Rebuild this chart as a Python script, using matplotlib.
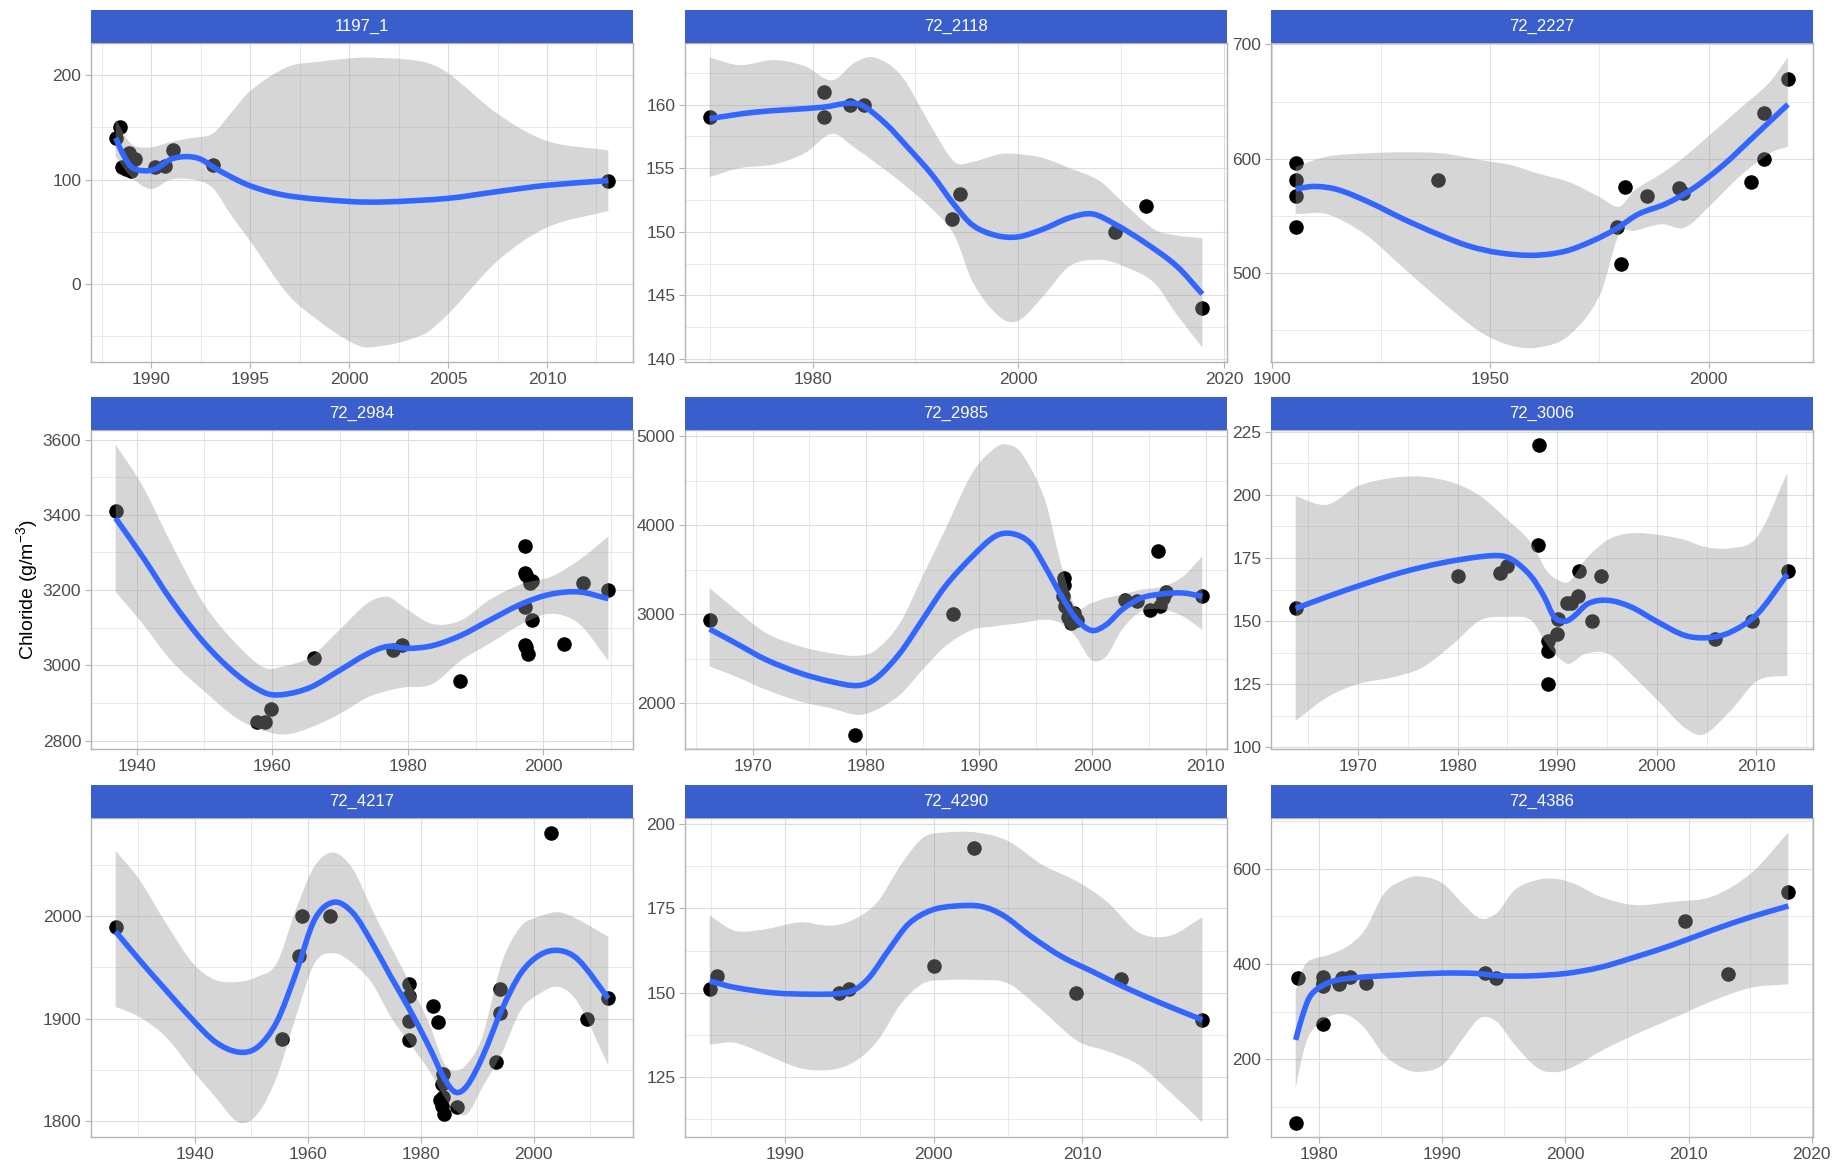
import matplotlib
matplotlib.use("Agg")
import matplotlib.pyplot as plt
from matplotlib.path import Path
from matplotlib.patches import PathPatch
from matplotlib.ticker import FixedLocator, NullFormatter

plt.rcParams["font.family"] = ["Liberation Sans", "DejaVu Sans"]
plt.rcParams["mathtext.fontset"] = "custom"
plt.rcParams["mathtext.rm"] = "Liberation Sans"
plt.rcParams["mathtext.it"] = "Liberation Sans:italic"
plt.rcParams["mathtext.default"] = "regular"

# ---------------------------------------------------------------- data
sites = ["1197_1", "72_2118", "72_2227", "72_2984", "72_2985",
         "72_3006", "72_4217", "72_4290", "72_4386"]

# 1197_1
s1_year = [1988.2, 1988.4, 1988.5, 1988.7, 1988.9, 1989.0, 1989.2, 1990.2, 1990.7, 1991.1, 1993.1, 2013.1]
s1_cl = [140, 150, 112, 110, 125, 108, 120, 112, 113, 128, 114, 99]
s1_fit_x = [1988.2, 1988.55, 1989.0, 1989.6, 1990.2, 1991.0, 1991.8, 1992.5, 1993.3, 1995.0, 1996.9,
            2000.0, 2001.75, 2005.0, 2007.5, 2010.0, 2013.1]
s1_fit_y = [140, 125, 112, 108.5, 110, 119.5, 122, 119.5, 110, 94, 84.5, 79, 78.5, 82, 88.5, 94.5, 99]
s1_band_x = [1988.2, 1989.0, 1990.0, 1991.0, 1992.1, 1993.1, 1994.0, 1995.0, 1996.9, 1998.5,
             2000.0, 2001.0, 2003.7, 2005.0, 2007.5, 2010.0, 2013.1]
s1_band_hi = [158, 134, 131, 136, 140, 144, 163, 185, 208, 213, 216, 217, 213, 202, 163, 137, 128]
s1_band_lo = [122, 102, 91, 100, 100, 92, 67, 41, -10, -36, -55, -61, -49, -29, 22, 54, 70]

# 72_2118
s2_year = [1970.0, 1981.1, 1981.1, 1983.6, 1985.0, 1993.6, 1994.3, 2009.4, 2012.4, 2017.9]
s2_cl = [159, 161, 159, 160, 160, 151, 153, 150, 152, 144]
s2_fit_x = [1970.0, 1974.4, 1981.1, 1983.4, 1984.8, 1987.1, 1989.3, 1991.6, 1993.8, 1995.6, 1997.9,
            2000.0, 2002.4, 2005.0, 2007.2, 2009.4, 2012.4, 2015.4, 2017.9]
s2_fit_y = [158.9, 159.4, 159.8, 160.1, 159.95, 158.5, 156.6, 154.5, 152.1, 150.5, 149.7, 149.6,
            150.2, 151.1, 151.4, 150.6, 149.1, 147.3, 145.1]
s2_band_x = [1970.0, 1972.9, 1976.3, 1979.3, 1981.9, 1984.1, 1986.0, 1988.6, 1991.6, 1993.8, 1995.6,
             1998.2, 2000.0, 2002.4, 2005.0, 2007.9, 2010.2, 2013.2, 2015.4, 2017.9]
s2_band_hi = [163.7, 163.1, 163.5, 163.0, 161.9, 163.3, 163.7, 162.3, 158.2, 155.5, 155.5, 156.1,
              156.1, 155.8, 155.0, 154.0, 152.3, 150.2, 149.7, 149.5]
s2_band_lo = [154.3, 155.0, 155.3, 156.2, 157.7, 156.6, 155.5, 153.9, 151.8, 149.7, 146.0, 143.3,
              143.0, 144.9, 147.3, 147.8, 147.3, 146.0, 143.5, 140.9]

# 72_2227
s3_year = [1905.5, 1905.5, 1905.5, 1905.5, 1938.1, 1979.0, 1979.9, 1980.9, 1985.9, 1993.2, 1994.1,
           2009.6, 2012.7, 2012.7, 2018.2]
s3_cl = [596, 581, 567, 540, 581, 540, 508, 575, 567, 574, 570, 580, 640, 600, 670]
s3_fit_x = [1905.5, 1910.0, 1915.2, 1922.3, 1930.2, 1938.1, 1945.2, 1952.2, 1960.1, 1967.2, 1973.3,
            1978.6, 1983.9, 1990.1, 1996.3, 2003.3, 2009.5, 2018.1]
s3_fit_y = [573.7, 575.8, 572.9, 562, 547.2, 533.9, 523.6, 517.7, 515.6, 519.2, 528, 538.3, 551.6,
            560.5, 573.7, 594.4, 616.5, 647.5]
s3_band_x = [1905.5, 1912.6, 1921.4, 1930.2, 1939.0, 1947.8, 1954.8, 1961.0, 1968.0, 1975.1, 1979.5,
             1983.0, 1989.2, 1994.5, 2000.7, 2006.9, 2013.9, 2018.1]
s3_band_hi = [593, 601.8, 604.7, 605.6, 604.7, 598.8, 594.4, 587, 579.6, 566.4, 558, 572.3, 587,
              601.8, 622.4, 643.1, 666.7, 688.5]
s3_band_lo = [551.6, 551.6, 533.9, 504.4, 475, 448.4, 436.6, 435, 445.4, 480.8, 533.9, 536.9, 542.8,
              539.8, 560.5, 584, 604.7, 610.6]

# 72_2984
s4_year = [1936.9, 1957.8, 1958.9, 1959.8, 1966.1, 1977.8, 1979.1, 1987.7, 1997.3, 1997.3, 1997.4,
           1998.1, 1998.3, 1997.3, 1998.3, 1997.3, 1997.4, 1997.8, 2003.0, 2005.8, 2009.6]
s4_cl = [3410, 2850, 2850, 2885, 3020, 3040, 3055, 2958, 3318, 3246, 3240, 3219, 3224, 3155, 3121,
         3055, 3048, 3030, 3057, 3220, 3200]
s4_fit_x = [1936.9, 1940.9, 1945.1, 1949.9, 1954.7, 1958.9, 1961.5, 1965.6, 1969.8, 1974.0, 1977.0,
            1980.0, 1983.6, 1987.8, 1992.0, 1996.9, 2001.1, 2005.3, 2009.6]
s4_fit_y = [3391, 3288, 3173, 3061, 2976, 2927, 2922, 2941, 2985, 3030, 3050, 3045, 3052, 3079, 3119,
            3164, 3189, 3195, 3177]
s4_band_x = [1936.9, 1940.9, 1945.1, 1949.9, 1954.7, 1958.9, 1962.0, 1965.6, 1969.8, 1974.0, 1977.0,
             1979.4, 1983.6, 1987.8, 1992.0, 1996.9, 2001.1, 2005.3, 2009.6]
s4_band_hi = [3587, 3476, 3324, 3164, 3057, 2993, 2999, 3021, 3092, 3164, 3182, 3155, 3110, 3119,
              3173, 3217, 3235, 3280, 3342]
s4_band_lo = [3195, 3110, 3012, 2932, 2860, 2825, 2816, 2834, 2869, 2914, 2932, 2941, 2950, 3012,
              3057, 3110, 3137, 3110, 3012]

# 72_2985
s5_year = [1966.2, 1979.0, 1987.7, 1997.5, 1997.5, 1997.4, 1997.6, 1997.8, 1998.0, 1998.1, 1998.3,
           1998.6, 1998.4, 2002.9, 2003.9, 2005.1, 2005.8, 2006.0, 2006.2, 2006.5, 2009.7]
s5_cl = [2940, 1650, 3000, 3410, 3330, 3200, 3090, 2975, 2940, 2900, 2975, 2940, 3015, 3165, 3145,
         3050, 3710, 3090, 3180, 3250, 3200]
s5_fit_x = [1966.2, 1968.5, 1971.2, 1974.2, 1976.9, 1979.3, 1980.9, 1983.0, 1985.0, 1987.0, 1989.4,
            1991.4, 1992.9, 1994.5, 1995.8, 1997.2, 1998.5, 1999.9, 2001.2, 2002.6, 2004.3, 2006.3,
            2008.0, 2009.7]
s5_fit_y = [2834, 2676, 2489, 2339, 2245, 2200, 2282, 2564, 2939, 3314, 3651, 3876, 3906, 3801, 3539,
            3220, 2958, 2819, 2882, 3051, 3182, 3231, 3239, 3201]
s5_band_x = [1966.2, 1968.5, 1971.2, 1974.2, 1976.9, 1979.3, 1980.9, 1983.0, 1985.0, 1987.0, 1989.4,
             1991.4, 1992.4, 1993.7, 1995.8, 1997.2, 1998.5, 1999.9, 2001.2, 2002.6, 2004.3, 2006.3,
             2008.0, 2009.7]
s5_band_hi = [3295, 3051, 2789, 2639, 2564, 2534, 2601, 2901, 3426, 3951, 4589, 4870, 4907, 4814,
              4289, 3576, 3089, 3126, 3182, 3220, 3276, 3314, 3426, 3651]
s5_band_lo = [2414, 2301, 2151, 2020, 1945, 1870, 1926, 2095, 2376, 2639, 2826, 2864, 2883, 2901,
              2939, 2901, 2751, 2489, 2526, 2826, 3032, 3051, 2976, 2826]

# 72_3006
s6_year = [1963.75, 1980.0, 1984.3, 1985.0, 1988.1, 1988.2, 1989.1, 1989.1, 1989.1, 1990.0, 1990.1,
           1991.0, 1991.4, 1992.1, 1992.2, 1993.5, 1994.4, 2005.8, 2009.6, 2013.2]
s6_cl = [155, 168, 169, 172, 180, 220, 142, 138, 125, 145, 151, 157, 157, 160, 170, 150, 168, 143, 150, 170]
s6_fit_x = [1963.75, 1966.9, 1970.8, 1974.6, 1978.5, 1982.3, 1984.5, 1985.8, 1987.4, 1988.7, 1989.7,
            1990.8, 1991.6, 1993.1, 1995.1, 1997.4, 2000.1, 2002.8, 2005.1, 2007.4, 2010.1, 2013.1]
s6_fit_y = [155, 159.6, 164.9, 169.5, 173.1, 175.5, 175.8, 173.5, 167.6, 159.6, 151.6, 149.9, 151.6,
            156.9, 158.2, 155.6, 149.6, 144.3, 143.4, 145.6, 152.9, 168.5]
s6_band_x = [1963.75, 1966.9, 1970.0, 1973.5, 1976.5, 1979.6, 1982.3, 1985.0, 1987.4, 1988.9, 1990.1,
             1991.2, 1992.8, 1995.1, 1997.4, 2000.1, 2002.8, 2004.7, 2007.4, 2010.1, 2013.1]
s6_band_hi = [199.5, 196.1, 203.5, 206.8, 207.2, 204.8, 199.5, 190.2, 180.9, 170.2, 166.2, 165.6,
              174.2, 182.2, 184.8, 184.2, 182.2, 179.5, 178.9, 183.5, 208.8]
s6_band_lo = [110.4, 119.7, 125, 127.7, 131.6, 141, 150.3, 151.6, 150.3, 141, 135.6, 133, 137, 137,
              129, 118.4, 107.7, 105, 114.4, 126.3, 128.3]

# 72_4217
s7_year = [1926.0, 1955.4, 1958.5, 1958.9, 1964.0, 1978.0, 1978.0, 1978.0, 1978.0, 1982.2, 1983.1,
           1983.9, 1983.8, 1983.4, 1983.7, 1984.1, 1983.9, 1986.4, 1993.4, 1994.0, 1994.0, 2003.0,
           2009.5, 2013.2]
s7_cl = [1990, 1880, 1961, 2000, 2000, 1934, 1922, 1898, 1879, 1912, 1897, 1846, 1836, 1820, 1815,
         1807, 1823, 1814, 1858, 1905, 1929, 2082, 1900, 1920]
s7_fit_x = [1926.0, 1930.2, 1934.9, 1939.7, 1943.7, 1947.8, 1951.1, 1954.5, 1957.9, 1961.2, 1964.6,
            1968.0, 1971.4, 1974.7, 1978.1, 1981.5, 1984.2, 1986.2, 1988.2, 1990.9, 1994.3, 1997.7,
            2001.1, 2004.5, 2007.9, 2013.2]
s7_fit_y = [1985.2, 1957.4, 1927.9, 1898.4, 1877, 1867.2, 1872, 1896.7, 1944.3, 1996.7, 2013.8,
            2003.3, 1973.8, 1941, 1908.2, 1872.1, 1841, 1827.9, 1834.4, 1862.3, 1908.2, 1944.3,
            1962.3, 1966.6, 1957.4, 1919.7]
s7_band_x = s7_fit_x
s7_band_hi = [2064, 2036, 1993.4, 1954, 1937.7, 1936, 1941, 1954, 2006.6, 2049, 2062.3, 2046, 2006.6,
              1970.5, 1934.4, 1895, 1855.7, 1849, 1855.7, 1882, 1954, 1990, 2000, 2004, 1996.7, 1980]
s7_band_lo = [1911.5, 1901.6, 1882, 1849, 1823, 1798.4, 1806.6, 1842.6, 1901.6, 1954, 1964, 1954,
              1934.4, 1901.6, 1875.4, 1849, 1823, 1810, 1806.6, 1832.8, 1865.6, 1908.2, 1924.6,
              1931, 1914.8, 1854]

# 72_4290
s8_year = [1984.9, 1985.4, 1993.6, 1994.3, 2000.0, 2002.7, 2009.6, 2012.6, 2018.1]
s8_cl = [151, 155, 150, 151, 158, 193, 150, 154, 142]
s8_fit_x = [1984.9, 1986.6, 1989.2, 1991.8, 1993.6, 1994.7, 1995.7, 1997.0, 1998.3, 1999.8, 2001.4,
            2003.2, 2004.7, 2006.5, 2008.6, 2010.7, 2012.8, 2015.4, 2018.1]
s8_fit_y = [153.5, 151.6, 150, 149.6, 149.8, 151, 154.8, 162.9, 170.4, 174.4, 175.7, 175.6, 172.9,
            166.9, 160.8, 156.3, 151.8, 146.8, 142]
s8_band_x = [1984.9, 1986.6, 1988.7, 1991.0, 1993.1, 1994.7, 1996.2, 1997.8, 1999.3, 2000.8, 2002.9,
             2005.0, 2007.3, 2009.7, 2011.7, 2013.8, 2015.9, 2018.1]
s8_band_hi = [172.9, 168.4, 168.9, 170.9, 169.9, 171.9, 176.9, 188, 196, 197.5, 197.5, 195, 188,
              182.9, 176.9, 167.9, 166.9, 172.4]
s8_band_lo = [134.7, 135.2, 131.7, 127.7, 127.2, 129.7, 135.7, 146.8, 152.8, 153.8, 153.8, 152.8,
              144.8, 135.7, 132.7, 128.7, 120.7, 111.6]

# 72_4386
s9_year = [1978.1, 1978.3, 1980.3, 1980.3, 1980.3, 1980.3, 1981.6, 1981.9, 1982.5, 1983.8, 1993.5,
           1994.4, 2009.7, 2013.2, 2018.1]
s9_cl = [68, 370, 275, 372, 361, 354, 358, 370, 372, 361, 381, 370, 490, 380, 550]
s9_fit_x = [1978.1, 1978.6, 1979.2, 1980.0, 1981.2, 1983.1, 1986.2, 1990.0, 1992.8, 1994.7, 1997.2,
            2000.0, 2002.8, 2005.6, 2008.8, 2011.9, 2015.1, 2018.1]
s9_fit_y = [241, 287, 329, 350.5, 364.7, 371.7, 376.7, 381, 380.2, 375.3, 375.3, 380.2, 392.9, 414.1,
            441, 470.7, 498.9, 521.6]
s9_band_x = [1978.1, 1978.6, 1979.2, 1980.6, 1982.2, 1983.7, 1985.3, 1986.9, 1988.1, 1990.0, 1991.9,
             1993.1, 1994.4, 1995.9, 1997.8, 1999.4, 2000.9, 2002.8, 2005.6, 2008.8, 2011.9, 2015.1,
             2018.1]
s9_band_hi = [343.5, 385.9, 407, 417.7, 435.3, 470.7, 548.4, 576.7, 583.7, 569.6, 520.1, 495.4, 506,
              555.5, 576.7, 578, 566.1, 541.3, 523.7, 530.7, 541.3, 590.8, 675.6]
s9_band_lo = [138.5, 202.1, 251.6, 287, 294, 265.7, 209.2, 181, 173.9, 188, 251.6, 287, 279.9, 230.4,
              181, 173.9, 188, 216.3, 251.6, 287, 322.3, 350.5, 357.6]

# axis breaks for each facet
x_breaks = [
    [1990, 1995, 2000, 2005, 2010],
    [1980, 2000, 2020],
    [1900, 1950, 2000],
    [1940, 1960, 1980, 2000],
    [1970, 1980, 1990, 2000, 2010],
    [1970, 1980, 1990, 2000, 2010],
    [1940, 1960, 1980, 2000],
    [1990, 2000, 2010],
    [1980, 1990, 2000, 2010, 2020],
]
y_breaks = [
    [0, 100, 200],
    [140, 145, 150, 155, 160],
    [500, 600, 700],
    [2800, 3000, 3200, 3400, 3600],
    [2000, 3000, 4000, 5000],
    [100, 125, 150, 175, 200, 225],
    [1800, 1900, 2000],
    [125, 150, 175, 200],
    [200, 400, 600],
]

y_title = "Chloride (g/m$^{-3}$)"

facets = [
    (s1_year, s1_cl, s1_fit_x, s1_fit_y, s1_band_x, s1_band_lo, s1_band_hi),
    (s2_year, s2_cl, s2_fit_x, s2_fit_y, s2_band_x, s2_band_lo, s2_band_hi),
    (s3_year, s3_cl, s3_fit_x, s3_fit_y, s3_band_x, s3_band_lo, s3_band_hi),
    (s4_year, s4_cl, s4_fit_x, s4_fit_y, s4_band_x, s4_band_lo, s4_band_hi),
    (s5_year, s5_cl, s5_fit_x, s5_fit_y, s5_band_x, s5_band_lo, s5_band_hi),
    (s6_year, s6_cl, s6_fit_x, s6_fit_y, s6_band_x, s6_band_lo, s6_band_hi),
    (s7_year, s7_cl, s7_fit_x, s7_fit_y, s7_band_x, s7_band_lo, s7_band_hi),
    (s8_year, s8_cl, s8_fit_x, s8_fit_y, s8_band_x, s8_band_lo, s8_band_hi),
    (s9_year, s9_cl, s9_fit_x, s9_fit_y, s9_band_x, s9_band_lo, s9_band_hi),
]

# ---------------------------------------------------------------- style
STRIP_BLUE = "#3A5FCD"
SMOOTH_BLUE = "#3366FF"
GRID = "#DEDEDE"
FRAME = "#B3B3B3"
TICK_TEXT = "#4D4D4D"

W, H = 1834, 1161
fig = plt.figure(figsize=(W / 100, H / 100), dpi=100)
fig.patch.set_facecolor("white")

col_left = [91, 685, 1271]
row_top = [43, 430, 818]
pw, ph, strip_h = 542, 319, 33


def padded(lo, hi, frac=0.05):
    span = hi - lo
    return lo - frac * span, hi + frac * span


def hermite_segments(x, y):
    """Cubic Hermite path through the given knots, as Bezier segments."""
    n = len(x)
    slopes = []
    for i in range(n):
        a, b = max(i - 1, 0), min(i + 1, n - 1)
        slopes.append((y[b] - y[a]) / (x[b] - x[a]))
    verts = [(x[0], y[0])]
    codes = [Path.MOVETO]
    for i in range(n - 1):
        h = x[i + 1] - x[i]
        verts += [(x[i] + h / 3, y[i] + slopes[i] * h / 3),
                  (x[i + 1] - h / 3, y[i + 1] - slopes[i + 1] * h / 3),
                  (x[i + 1], y[i + 1])]
        codes += [Path.CURVE4] * 3
    return verts, codes


def smooth_line(ax, x, y, **kw):
    verts, codes = hermite_segments(x, y)
    ax.add_patch(PathPatch(Path(verts, codes), fill=False, **kw))


def smooth_band(ax, x, lo, hi, **kw):
    v_hi, c_hi = hermite_segments(x, hi)
    v_lo, c_lo = hermite_segments(x[::-1], lo[::-1])
    c_lo = [Path.LINETO] + c_lo[1:]
    verts = v_hi + v_lo + [v_hi[0]]
    codes = c_hi + c_lo + [Path.CLOSEPOLY]
    ax.add_patch(PathPatch(Path(verts, codes), **kw))


for i, (site, data) in enumerate(zip(sites, facets)):
    yr, cl, fx, fy, bx, blo, bhi = data
    r, c = divmod(i, 3)
    left, top = col_left[c], row_top[r]
    ax = fig.add_axes([left / W, 1 - (top + ph) / H, pw / W, ph / H])

    ax.scatter(yr, cl, s=110, color="black", linewidths=0, zorder=2)
    smooth_band(ax, list(bx), list(blo), list(bhi), facecolor="#999999", alpha=0.4,
                edgecolor="none", linewidth=0, zorder=3)
    smooth_line(ax, list(fx), list(fy), edgecolor=SMOOTH_BLUE, lw=4.0,
                capstyle="butt", joinstyle="round", zorder=4)

    xlo, xhi = padded(min(min(yr), min(bx), min(fx)), max(max(yr), max(bx), max(fx)))
    ylo, yhi = padded(min(min(cl), min(blo), min(fy)), max(max(cl), max(bhi), max(fy)))
    ax.set_xlim(xlo, xhi)
    ax.set_ylim(ylo, yhi)

    xb, yb = x_breaks[i], y_breaks[i]
    xstep, ystep = xb[1] - xb[0], yb[1] - yb[0]
    ax.xaxis.set_major_locator(FixedLocator(xb))
    ax.yaxis.set_major_locator(FixedLocator(yb))
    xminor = [xb[0] - xstep / 2 + k * xstep for k in range(len(xb) + 1)]
    yminor = [yb[0] - ystep / 2 + k * ystep for k in range(len(yb) + 1)]
    ax.xaxis.set_minor_locator(FixedLocator(xminor))
    ax.yaxis.set_minor_locator(FixedLocator(yminor))
    ax.xaxis.set_minor_formatter(NullFormatter())
    ax.yaxis.set_minor_formatter(NullFormatter())

    ax.set_axisbelow(True)
    ax.grid(which="major", color=GRID, lw=0.8)
    ax.grid(which="minor", color=GRID, lw=0.45)
    ax.tick_params(which="major", length=4, width=0.8, color=FRAME,
                   labelcolor=TICK_TEXT, labelsize=12.5, pad=3)
    ax.tick_params(which="minor", length=0)
    for sp in ax.spines.values():
        sp.set_color(FRAME)
        sp.set_linewidth(1.0)

    sax = fig.add_axes([left / W, 1 - top / H, pw / W, strip_h / H])
    sax.set_facecolor(STRIP_BLUE)
    sax.set_xticks([])
    sax.set_yticks([])
    for sp in sax.spines.values():
        sp.set_visible(False)
    sax.text(0.5, 0.5, site, color="white", fontsize=12, ha="center", va="center",
             transform=sax.transAxes)

fig.text(27 / W, 1 - 590 / H, y_title, rotation=90, ha="center", va="center",
         fontsize=14, color="black")

fig.savefig("out.png", dpi=100, facecolor="white")
